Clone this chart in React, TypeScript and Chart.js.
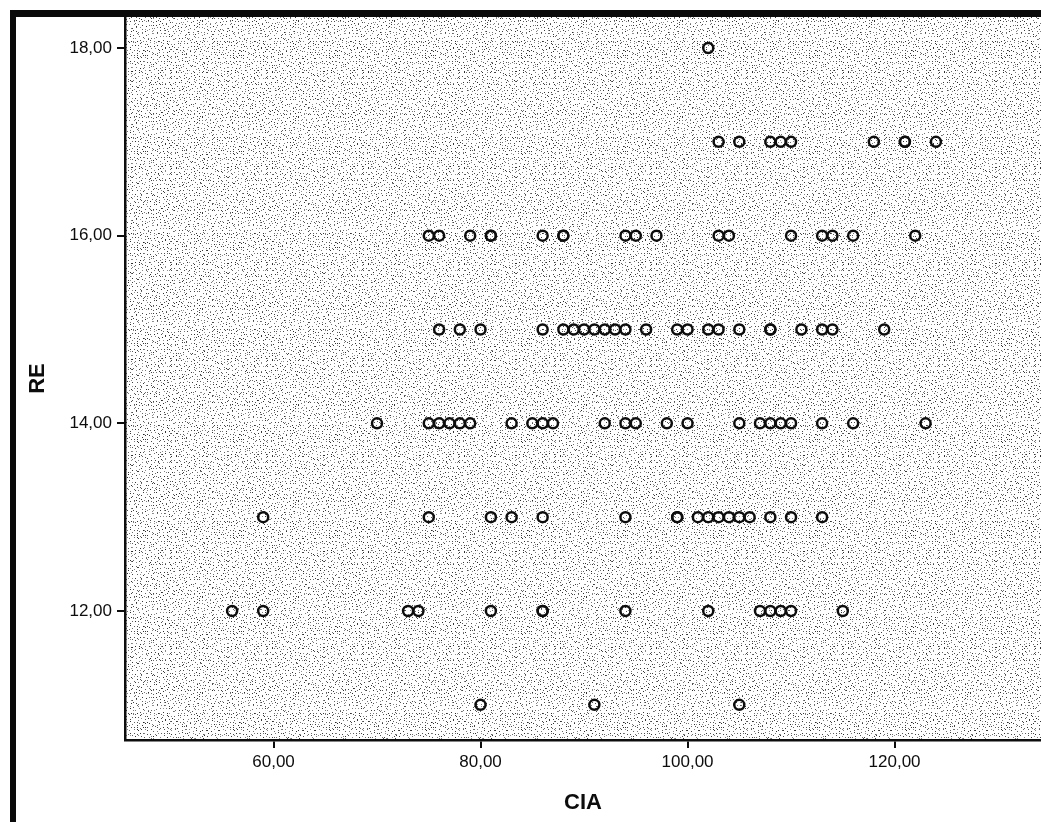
import React, { useEffect, useRef } from "react";
import { Chart, registerables } from "chart.js";

Chart.register(...registerables);

// RE level -> CIA values
const reLevels = [11, 12, 13, 14, 15, 16, 17, 18];
const ciaAtRE11 = [80, 91, 105];
const ciaAtRE12 = [56, 59, 73, 74, 81, 86, 86, 94, 102, 107, 108, 109, 110, 115];
const ciaAtRE13 = [59, 75, 81, 83, 86, 94, 99, 99, 101, 102, 103, 104, 105, 106, 108, 110, 113];
const ciaAtRE14 = [70, 75, 76, 77, 78, 79, 83, 85, 86, 87, 92, 94, 95, 98, 100, 105, 107, 108, 109, 110, 113, 116, 123];
const ciaAtRE15 = [76, 78, 80, 86, 88, 89, 90, 91, 92, 93, 94, 96, 99, 100, 102, 103, 105, 108, 108, 111, 113, 114, 119];
const ciaAtRE16 = [75, 76, 79, 81, 81, 86, 88, 88, 94, 95, 97, 103, 104, 110, 113, 114, 116, 122];
const ciaAtRE17 = [103, 105, 108, 109, 110, 118, 121, 121, 124];
const ciaAtRE18 = [102];
const ciaGroups = [ciaAtRE11, ciaAtRE12, ciaAtRE13, ciaAtRE14, ciaAtRE15, ciaAtRE16, ciaAtRE17, ciaAtRE18];

const xTicks = [60, 80, 100, 120];
const yTicks = [12, 14, 16, 18];
const xRange = [45.65, 134.15];
const yRange = [10.625, 18.33];

const FONT = "'Liberation Sans', Arial, sans-serif";
const INK = "#0d0d0d";

function makeStipple(ctx: CanvasRenderingContext2D) {
  const size = 96;
  const cell = 3;
  const c = document.createElement("canvas");
  c.width = size;
  c.height = size;
  const g = c.getContext("2d")!;
  g.fillStyle = "#ffffff";
  g.fillRect(0, 0, size, size);
  let s = 98765;
  const rnd = () => {
    s = (s * 1103515245 + 12345) & 0x7fffffff;
    return (s >> 8) / 8388608;
  };
  for (let cy = 0; cy < size; cy += cell) {
    for (let cx = 0; cx < size; cx += cell) {
      const ox = Math.floor(rnd() * cell);
      const oy = Math.floor(rnd() * cell);
      const shade = Math.floor(40 + rnd() * 110);
      g.fillStyle = `rgb(${shade},${shade},${shade})`;
      g.fillRect(cx + ox, cy + oy, 1, 1);
    }
  }
  return ctx.createPattern(c, "repeat");
}

export default function App() {
  const ref = useRef<HTMLCanvasElement>(null);

  useEffect(() => {
    const canvas = ref.current!;
    const data: { x: number; y: number }[] = [];
    reLevels.forEach((lvl, i) => {
      ciaGroups[i].forEach((v) => data.push({ x: v, y: lvl }));
    });

    let pattern: CanvasPattern | null = null;

    const bgPlugin = {
      id: "stippleBg",
      beforeDraw(chart: any) {
        const { ctx, chartArea } = chart;
        if (!pattern) pattern = makeStipple(ctx);
        ctx.save();
        ctx.fillStyle = pattern as any;
        ctx.fillRect(chartArea.left, chartArea.top, chartArea.right - chartArea.left, chartArea.bottom - chartArea.top);
        ctx.restore();
      },
      afterDraw(chart: any) {
        const { ctx, width, height } = chart;
        ctx.save();
        ctx.fillStyle = "#0a0a0a";
        ctx.fillRect(10, 10, 6, height - 10);
        ctx.fillRect(10, 10, width - 10, 7);
        ctx.restore();
      },
    };

    const fmt = (v: any) => Number(v).toFixed(2).replace(".", ",");

    const chart = new Chart(canvas, {
      type: "scatter",
      data: {
        datasets: [
          {
            data,
            pointStyle: "circle",
            pointRadius: 5,
            pointBorderWidth: 2.5,
            pointBorderColor: INK,
            pointBackgroundColor: "rgba(0,0,0,0)",
            showLine: false,
          },
        ],
      },
      options: {
        responsive: false,
        animation: false,
        events: [],
        layout: { autoPadding: false, padding: { top: 17, left: 0, right: 0, bottom: 0 } },
        plugins: { legend: { display: false }, tooltip: { enabled: false } },
        scales: {
          x: {
            type: "linear",
            min: xRange[0],
            max: xRange[1],
            afterBuildTicks: (s: any) => {
              s.ticks = xTicks.map((v) => ({ value: v }));
            },
            afterFit: (s: any) => {
              s.height = 82;
            },
            grid: { display: true, drawOnChartArea: false, drawTicks: true, tickLength: 8, color: INK, lineWidth: 2 },
            border: { display: true, color: INK, width: 2.5 },
            ticks: { callback: fmt, font: { family: FONT, size: 17 }, color: INK, padding: 4, maxRotation: 0, autoSkip: false },
            title: { display: true, text: "CIA", font: { family: FONT, size: 22, weight: "bold" }, color: INK, padding: { top: 0, bottom: 6 } },
          },
          y: {
            type: "linear",
            min: yRange[0],
            max: yRange[1],
            afterBuildTicks: (s: any) => {
              s.ticks = yTicks.map((v) => ({ value: v }));
            },
            afterFit: (s: any) => {
              s.width = 125;
            },
            grid: { display: true, drawOnChartArea: false, drawTicks: true, tickLength: 8, color: INK, lineWidth: 2 },
            border: { display: true, color: INK, width: 2.5 },
            ticks: { callback: fmt, font: { family: FONT, size: 17 }, color: INK, padding: 5, autoSkip: false },
            title: { display: true, text: "RE", font: { family: FONT, size: 22, weight: "bold" }, color: INK, padding: { top: 25, bottom: 0 } },
          },
        },
      },
      plugins: [bgPlugin],
    } as any);

    return () => chart.destroy();
  }, []);

  return (
    <div style={{ position: "fixed", left: 0, top: 0, width: 1041, height: 822, background: "#fff" }}>
      <canvas ref={ref} width={1041} height={822} style={{ display: "block" }} />
    </div>
  );
}
